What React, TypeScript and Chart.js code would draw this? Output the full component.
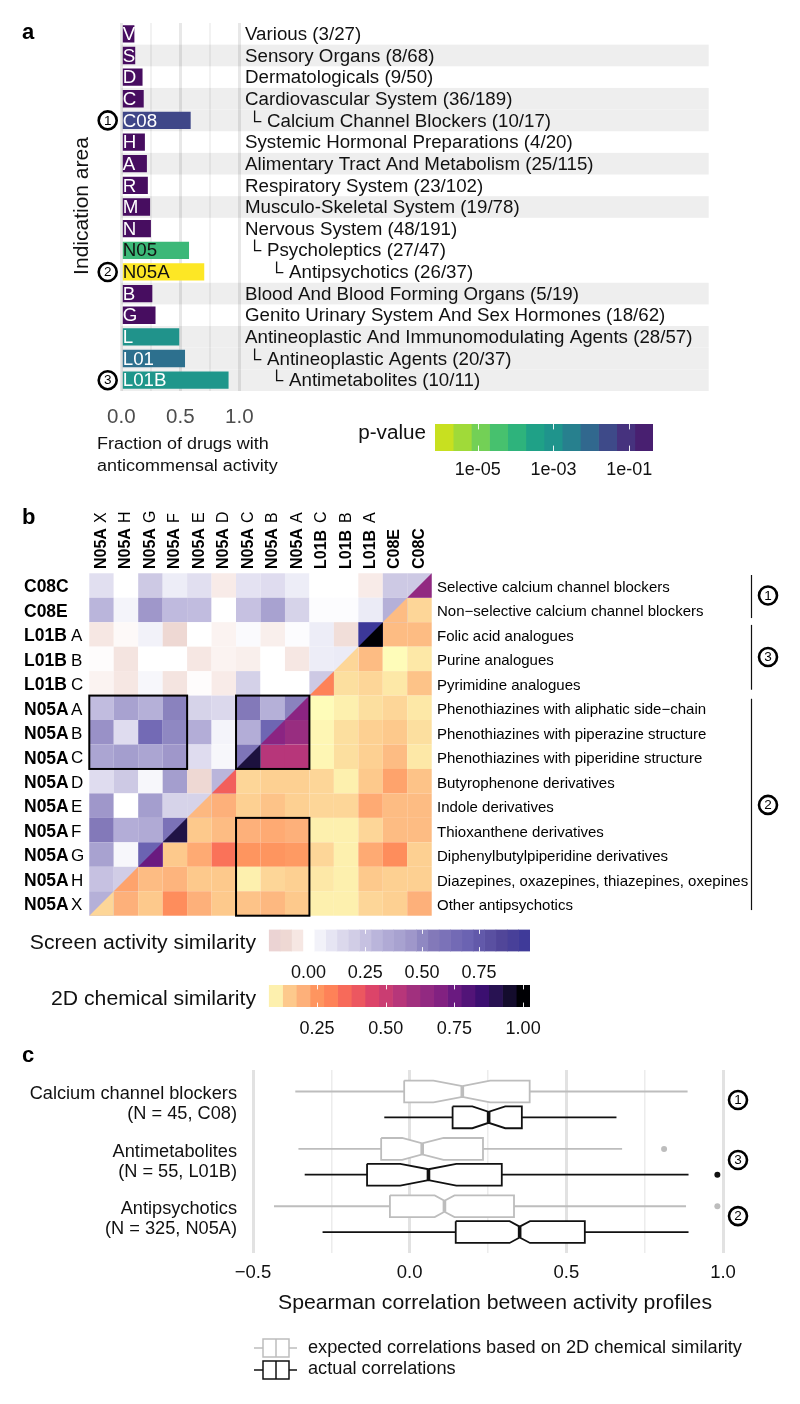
import React, { useEffect, useRef } from "react";
import { Chart, registerables } from "chart.js";
Chart.register(...registerables);

const PAGE_W = 800;
const PAGE_H = 1404;
const FONT = '"Liberation Sans", Arial, sans-serif';

// ---------- panel a ----------
const areaCodes = ["V", "S", "D", "C", "C08", "H", "A", "R", "M", "N", "N05", "N05A", "B", "G", "L", "L01", "L01B"];
const areaNames = ["Various (3/27)", "Sensory Organs (8/68)", "Dermatologicals (9/50)", "Cardiovascular System (36/189)", "Calcium Channel Blockers (10/17)", "Systemic Hormonal Preparations (4/20)", "Alimentary Tract And Metabolism (25/115)", "Respiratory System (23/102)", "Musculo-Skeletal System (19/78)", "Nervous System (48/191)", "Psycholeptics (27/47)", "Antipsychotics (26/37)", "Blood And Blood Forming Organs (5/19)", "Genito Urinary System And Sex Hormones (18/62)", "Antineoplastic And Immunomodulating Agents (28/57)", "Antineoplastic Agents (20/37)", "Antimetabolites (10/11)"];
const areaIndent = [0, 0, 0, 0, 1, 0, 0, 0, 0, 0, 1, 2, 0, 0, 0, 1, 2];
const areaFractions = [0.111, 0.118, 0.18, 0.19, 0.588, 0.2, 0.217, 0.225, 0.244, 0.251, 0.574, 0.703, 0.263, 0.29, 0.491, 0.54, 0.909];
const areaColors = ["#470d60", "#470d60", "#470d60", "#470d60", "#3f4788", "#470d60", "#470d60", "#470d60", "#470d60", "#470d60", "#3cb878", "#fde725", "#470d60", "#470d60", "#20938b", "#2d708e", "#1f968b"];
const areaLabelColors = ["#fff", "#fff", "#fff", "#fff", "#fff", "#fff", "#fff", "#fff", "#fff", "#fff", "#111", "#111", "#fff", "#fff", "#fff", "#fff", "#fff"];
const stripedAreas = ["S", "C", "C08", "A", "M", "B", "L", "L01", "L01B"];
const areaCircles = [["C08", "1"], ["N05A", "2"], ["L01B", "3"]];
const fractionTicks = [0, 0.25, 0.5, 0.75, 1];

const pValueEdges = [-6.13, -5.65, -5.17, -4.69, -4.21, -3.73, -3.25, -2.77, -2.29, -1.81, -1.33, -0.85, -0.37];
const pValueColors = ["#c8e020", "#a0da39", "#73d056", "#47c16e", "#2eb37c", "#1fa187", "#1f948c", "#27808e", "#31688e", "#3e4a89", "#46327e", "#481f70"];
const pValueTicks = [-5, -3, -1];
const pValueTickLabels = ["1e-05", "1e-03", "1e-01"];

// ---------- panel b ----------
const colCodes = [["N05A", "X"], ["N05A", "H"], ["N05A", "G"], ["N05A", "F"], ["N05A", "E"], ["N05A", "D"], ["N05A", "C"], ["N05A", "B"], ["N05A", "A"], ["L01B", "C"], ["L01B", "B"], ["L01B", "A"], ["C08E", ""], ["C08C", ""]];
const rowCodes = [["C08C", ""], ["C08E", ""], ["L01B", "A"], ["L01B", "B"], ["L01B", "C"], ["N05A", "A"], ["N05A", "B"], ["N05A", "C"], ["N05A", "D"], ["N05A", "E"], ["N05A", "F"], ["N05A", "G"], ["N05A", "H"], ["N05A", "X"]];
const rowNames = ["Selective calcium channel blockers", "Non\u2212selective calcium channel blockers", "Folic acid analogues", "Purine analogues", "Pyrimidine analogues", "Phenothiazines with aliphatic side\u2212chain", "Phenothiazines with piperazine structure", "Phenothiazines with piperidine structure", "Butyrophenone derivatives", "Indole derivatives", "Thioxanthene derivatives", "Diphenylbutylpiperidine derivatives", "Diazepines, oxazepines, thiazepines, oxepines", "Other antipsychotics"];
// upper-left triangle, column 0 up to the diagonal
const screenRows = [
  [0.12, 0, 0.22, 0.07, 0.12, -0.04, 0.11, 0.13, 0.07, 0, 0, -0.04, 0.22, 0.22],
  [0.3, 0.04, 0.45, 0.28, 0.27, 0, 0.25, 0.4, 0.17, 0.01, 0.01, 0.08, 0.32],
  [-0.05, -0.01, 0.05, -0.1, 0, -0.02, 0.02, -0.03, 0.01, 0.07, -0.08, 0.97],
  [-0.005, -0.06, 0, 0, -0.05, -0.02, -0.03, 0, -0.05, 0.07, 0.08],
  [-0.02, -0.05, 0.03, -0.06, -0.005, -0.04, 0.18, 0, 0, 0.22],
  [0.27, 0.4, 0.32, 0.52, 0.17, 0.15, 0.55, 0.32, 0.52],
  [0.47, 0.13, 0.65, 0.5, 0.33, 0.04, 0.33, 0.68],
  [0.38, 0.42, 0.38, 0.45, 0.13, 0.03, 0.58],
  [0.13, 0.22, 0.03, 0.42, -0.1, 0.3],
  [0.45, 0, 0.42, 0.17, 0.17],
  [0.55, 0.33, 0.35, 0.6],
  [0.4, 0.03, 0.7],
  [0.25, 0.2],
  [0.32],
];
// lower-right triangle, from the diagonal to the last column
const chemRows = [
  [0.65],
  [0.17, 0.13],
  [1.0, 0.17, 0.17],
  [0.13, 0.17, 0.08, 0.11],
  [0.3, 0.12, 0.13, 0.11, 0.16],
  [0.68, 0.08, 0.1, 0.12, 0.13, 0.11],
  [0.68, 0.62, 0.09, 0.12, 0.14, 0.15, 0.12],
  [0.93, 0.55, 0.55, 0.09, 0.12, 0.14, 0.17, 0.11],
  [0.38, 0.13, 0.14, 0.14, 0.13, 0.1, 0.15, 0.22, 0.16],
  [0.18, 0.2, 0.14, 0.16, 0.14, 0.13, 0.13, 0.21, 0.17, 0.17],
  [0.92, 0.15, 0.17, 0.2, 0.21, 0.2, 0.1, 0.1, 0.13, 0.17, 0.17],
  [0.75, 0.15, 0.21, 0.33, 0.25, 0.25, 0.24, 0.13, 0.1, 0.21, 0.27, 0.14],
  [0.22, 0.17, 0.19, 0.15, 0.15, 0.1, 0.13, 0.14, 0.11, 0.1, 0.15, 0.14, 0.14],
  [0.13, 0.2, 0.15, 0.27, 0.2, 0.15, 0.16, 0.18, 0.15, 0.1, 0.1, 0.13, 0.14, 0.2],
];
const outlinedBlocks = [
  [0, 3, 5, 7],
  [6, 8, 5, 7],
  [6, 8, 10, 13],
];
const brackets = [
  [-0.43, 1.33, 0.41, "1"],
  [1.61, 4.26, 2.92, "3"],
  [4.63, 13.27, 8.97, "2"],
];
const screenStopValues = [-0.175, -0.1, -0.05, -0.02, 0, 0.04, 0.08, 0.13, 0.17, 0.22, 0.27, 0.33, 0.4, 0.45, 0.5, 0.55, 0.6, 0.7, 0.85, 0.975];
const screenStopColors = ["#e9d0d3", "#eed8d3", "#f6e7e3", "#fbf3f1", "#ffffff", "#f4f4fa", "#ebebf6", "#dfdcef", "#d6d3e9", "#cdc9e4", "#c1bcdf", "#b3add7", "#a8a2d0", "#9f97ca", "#8f88c2", "#8379b9", "#7b72b8", "#6b63b2", "#514699", "#3b3799"];
const chemStopValues = [0.075, 0.08, 0.1, 0.12, 0.13, 0.15, 0.17, 0.2, 0.22, 0.25, 0.3, 0.33, 0.38, 0.45, 0.55, 0.62, 0.68, 0.75, 0.85, 0.92, 1.0];
const chemStopColors = ["#fefdbb", "#fefcb9", "#fdf0ae", "#fcdf9f", "#fdd698", "#fdc98c", "#fdbc83", "#fdb07a", "#fea36c", "#fe955f", "#fe8258", "#fa7259", "#f25f5c", "#dc4469", "#b7367a", "#982d80", "#8b2482", "#6a1a80", "#3b0f70", "#201346", "#000004"];
const screenEdges = [-0.175, -0.125, -0.075, -0.025, 0.025, 0.075, 0.125, 0.175, 0.225, 0.275, 0.325, 0.375, 0.425, 0.475, 0.525, 0.575, 0.625, 0.675, 0.725, 0.775, 0.825, 0.875, 0.925, 0.975];
const screenTicks = [0, 0.25, 0.5, 0.75];
const chemEdges = [0.075, 0.125, 0.175, 0.225, 0.275, 0.325, 0.375, 0.425, 0.475, 0.525, 0.575, 0.625, 0.675, 0.725, 0.775, 0.825, 0.875, 0.925, 0.975, 1.025];
const chemTicks = [0.25, 0.5, 0.75, 1];

// ---------- panel c ----------
const boxGroupLines = [
  ["Calcium channel blockers", "(N = 45, C08)"],
  ["Antimetabolites", "(N = 55, L01B)"],
  ["Antipsychotics", "(N = 325, N05A)"],
];
const boxGroupCircles = ["1", "3", "2"];
const boxGroupCircleRows = [-0.077, 0.97, 1.947];
const expLow = [-0.365, -0.355, -0.433];
const expQ1 = [-0.0175, -0.091, -0.063];
const expNotchLow = [0.076, -0.024, 0.08];
const expMedian = [0.168, 0.04, 0.111];
const expNotchHigh = [0.257, 0.108, 0.143];
const expQ3 = [0.383, 0.234, 0.333];
const expHigh = [0.887, 0.678, 0.882];
const expOutliers = [[], [0.812], [0.982]];
const actLow = [-0.081, -0.335, -0.278];
const actQ1 = [0.137, -0.136, 0.147];
const actNotchLow = [0.2, -0.03, 0.319];
const actMedian = [0.252, 0.06, 0.351];
const actNotchHigh = [0.305, 0.149, 0.384];
const actQ3 = [0.358, 0.294, 0.559];
const actHigh = [0.66, 0.89, 0.89];
const actOutliers = [[], [0.982], []];
const corrTicks = [-0.5, -0.25, 0, 0.25, 0.5, 0.75, 1];

// ---------- helpers ----------
function hex(c) {
  return [parseInt(c.slice(1, 3), 16), parseInt(c.slice(3, 5), 16), parseInt(c.slice(5, 7), 16)];
}
function ramp(v, values, colors) {
  if (v <= values[0]) return colors[0];
  for (let i = 1; i < values.length; i++) {
    if (v <= values[i]) {
      const t = (v - values[i - 1]) / (values[i] - values[i - 1]);
      const a = hex(colors[i - 1]);
      const b = hex(colors[i]);
      return `rgb(${a.map((p, k) => Math.round(p + (b[k] - p) * t)).join(",")})`;
    }
  }
  return colors[colors.length - 1];
}
const screenColor = (v) => ramp(v, screenStopValues, screenStopColors);
const chemColor = (v) => ramp(v, chemStopValues, chemStopColors);

function txt(ctx, s, x, y, o: any = {}) {
  ctx.save();
  ctx.translate(x, y);
  if (o.rot) ctx.rotate(o.rot);
  ctx.scale(o.sx || 1, 1);
  ctx.font = `${o.bold ? "bold " : ""}${o.size || 16}px ${FONT}`;
  ctx.fillStyle = o.color || "#111";
  ctx.textAlign = o.align || "left";
  ctx.textBaseline = "middle";
  ctx.fillText(s, 0, 0);
  ctx.restore();
}
function circled(ctx, n, x, y) {
  ctx.save();
  ctx.beginPath();
  ctx.arc(x, y, 9, 0, Math.PI * 2);
  ctx.lineWidth = 2.6;
  ctx.strokeStyle = "#000";
  ctx.stroke();
  ctx.restore();
  txt(ctx, n, x, y + 0.5, { size: 13.5, align: "center", color: "#000" });
}
function padding(l, t, r, b, axisH) {
  return { left: l, top: t, right: PAGE_W - r, bottom: PAGE_H - b - axisH };
}
const base = {
  responsive: false,
  animation: false,
  devicePixelRatio: 1,
  events: [],
};
const quiet = { legend: { display: false }, tooltip: { enabled: false } };

// ---------- chart configs ----------
function barsConfig() {
  return {
    type: "bar",
    data: {
      labels: areaCodes,
      datasets: [{
        data: areaFractions,
        backgroundColor: areaColors,
        borderWidth: 0,
        barPercentage: 0.8,
        categoryPercentage: 1,
      }],
    },
    options: {
      ...base,
      indexAxis: "y",
      layout: { padding: padding(121.3, 23, 708.7, 391, 40) },
      plugins: quiet,
      scales: {
        x: {
          type: "linear",
          min: 0,
          max: 4.978,
          afterBuildTicks: (s) => { s.ticks = fractionTicks.map((value) => ({ value })); },
          afterFit: (s) => { s.height = 40; },
          border: { display: false },
          grid: {
            drawTicks: false,
            color: (c) => (c.tick.value % 0.5 === 0 ? "rgba(0,0,0,0.09)" : "rgba(0,0,0,0.05)"),
            lineWidth: (c) => (c.tick.value % 0.5 === 0 ? 3 : 2),
          },
          ticks: {
            autoSkip: false,
            maxRotation: 0,
            padding: 14,
            color: "#4d4d4d",
            font: { family: FONT, size: 20.5 },
            callback: (v) => (v % 0.5 === 0 ? Number(v).toFixed(1) : ""),
          },
        },
        y: { type: "category", display: false, offset: true },
      },
    },
    plugins: [{
      id: "stripes",
      beforeDraw(chart) {
        const { ctx, chartArea, scales } = chart;
        ctx.save();
        ctx.fillStyle = "#eeeeee";
        const step = scales.y.getPixelForValue(1) - scales.y.getPixelForValue(0);
        stripedAreas.forEach((code) => {
          const yy = scales.y.getPixelForValue(areaCodes.indexOf(code));
          ctx.fillRect(chartArea.left, yy - step / 2, chartArea.right - chartArea.left, step);
        });
        ctx.restore();
      },
      afterDatasetsDraw(chart) {
        const { ctx, scales } = chart;
        const x0 = scales.x.getPixelForValue(0);
        areaCodes.forEach((code, i) => {
          const yy = scales.y.getPixelForValue(i) + 1.2;
          txt(ctx, code, x0 + 1.5, yy, { size: 18, sx: 1.04, color: areaLabelColors[i] });
          const left = 245 + areaIndent[i] * 22;
          if (areaIndent[i]) txt(ctx, "\u2514", left - 19, yy, { size: 18, sx: 1.04, color: "#111" });
          txt(ctx, areaNames[i], left, yy, { size: 18, sx: 1.04 });
        });
        areaCircles.forEach(([code, n]) => {
          circled(ctx, n, 107.7, scales.y.getPixelForValue(areaCodes.indexOf(code)));
        });
        txt(ctx, "a", 22, 33, { size: 22, bold: true, color: "#000" });
        txt(ctx, "Indication area", 82, 206, { size: 21, rot: -Math.PI / 2, align: "center" });
        txt(ctx, "Fraction of drugs with", 97, 444, { size: 17.3, sx: 1.04 });
        txt(ctx, "anticommensal activity", 97, 466, { size: 17.3, sx: 1.04 });
        txt(ctx, "p-value", 426, 434, { size: 19.5, sx: 1.06, align: "right" });
      },
    }],
  };
}

function colorBarConfig(edges, colorAt, ticks, labelFor, l, t, r, b, tickPad, title, titleX, titleY) {
  const datasets = edges.slice(0, -1).map((e, i) => ({
    data: [[e, edges[i + 1]]],
    backgroundColor: colorAt(i),
    borderWidth: 0,
    grouped: false,
    barPercentage: 1,
    categoryPercentage: 1,
  }));
  return {
    type: "bar",
    data: { labels: ["bin"], datasets },
    options: {
      ...base,
      indexAxis: "y",
      layout: { padding: padding(l, t, r, b, 34) },
      plugins: quiet,
      scales: {
        x: {
          type: "linear",
          min: edges[0],
          max: edges[edges.length - 1],
          afterBuildTicks: (s) => { s.ticks = ticks.map((value) => ({ value })); },
          afterFit: (s) => { s.height = 34; },
          border: { display: false },
          grid: { display: false, drawTicks: false },
          ticks: {
            autoSkip: false,
            maxRotation: 0,
            padding: tickPad,
            color: "#111",
            font: { family: FONT, size: 18 },
            callback: (v) => labelFor(v),
          },
        },
        y: { type: "category", display: false, offset: true },
      },
    },
    plugins: [{
      id: "barTicks",
      afterDatasetsDraw(chart) {
        const { ctx, chartArea, scales } = chart;
        const len = (chartArea.bottom - chartArea.top) / 5;
        ctx.save();
        ctx.strokeStyle = "rgba(255,255,255,0.9)";
        ctx.lineWidth = 1;
        ticks.forEach((v) => {
          const xx = Math.round(scales.x.getPixelForValue(v)) + 0.5;
          ctx.beginPath();
          ctx.moveTo(xx, chartArea.top);
          ctx.lineTo(xx, chartArea.top + len);
          ctx.moveTo(xx, chartArea.bottom - len);
          ctx.lineTo(xx, chartArea.bottom);
          ctx.stroke();
        });
        ctx.restore();
        if (title) txt(ctx, title, titleX, titleY, { size: 20, sx: 1.06, align: "right" });
      },
    }],
  };
}

function heatConfig() {
  const upper = [];
  const lower = [];
  const diag = [];
  screenRows.forEach((row, r) => {
    row.forEach((v, c) => {
      if (r + c === 13) diag.push({ x: c, y: r, v, w: chemRows[r][0] });
      else upper.push({ x: c, y: r, v });
    });
  });
  chemRows.forEach((row, r) => {
    row.forEach((v, k) => {
      if (k > 0) lower.push({ x: 13 - r + k, y: r, v });
    });
  });
  const cell = {
    showLine: false,
    pointStyle: "rect",
    pointRadius: 17.32,
    pointBorderWidth: 0,
    clip: false,
  };
  return {
    type: "scatter",
    data: {
      datasets: [
        { ...cell, label: "diagonal", data: diag, pointBackgroundColor: (c) => screenColor(c.raw ? c.raw.v : 0) },
        { ...cell, label: "chemical", data: lower, pointBackgroundColor: (c) => chemColor(c.raw ? c.raw.v : 0.1) },
        { ...cell, label: "screen", data: upper, pointBackgroundColor: (c) => screenColor(c.raw ? c.raw.v : 0) },
      ],
    },
    options: {
      ...base,
      layout: { padding: padding(89.3, 573.3, 431.7, 915.7, 0) },
      plugins: quiet,
      scales: {
        x: { type: "linear", min: -0.5, max: 13.5, display: false },
        y: { type: "linear", min: -0.5, max: 13.5, reverse: true, display: false },
      },
    },
    plugins: [{
      id: "heatExtras",
      afterDatasetsDraw(chart) {
        const { ctx, scales } = chart;
        const X = scales.x;
        const Y = scales.y;
        // lower-right half of the diagonal cells
        diag.forEach((d) => {
          ctx.beginPath();
          ctx.moveTo(X.getPixelForValue(d.x + 0.5), Y.getPixelForValue(d.y - 0.5));
          ctx.lineTo(X.getPixelForValue(d.x + 0.5), Y.getPixelForValue(d.y + 0.5));
          ctx.lineTo(X.getPixelForValue(d.x - 0.5), Y.getPixelForValue(d.y + 0.5));
          ctx.closePath();
          ctx.fillStyle = chemColor(d.w);
          ctx.fill();
        });
        ctx.save();
        ctx.strokeStyle = "#000";
        ctx.lineWidth = 2;
        outlinedBlocks.forEach(([c0, c1, r0, r1]) => {
          const xa = X.getPixelForValue(c0 - 0.5);
          const xb = X.getPixelForValue(c1 + 0.5);
          const ya = Y.getPixelForValue(r0 - 0.5);
          const yb = Y.getPixelForValue(r1 + 0.5);
          ctx.strokeRect(xa, ya, xb - xa, yb - ya);
        });
        ctx.restore();
        colCodes.forEach(([code, suffix], c) => {
          const xx = X.getPixelForValue(c);
          txt(ctx, code, xx, 569, { size: 16, bold: true, rot: -Math.PI / 2, color: "#000" });
          if (suffix) txt(ctx, suffix, xx, 523, { size: 16, rot: -Math.PI / 2, color: "#000" });
        });
        rowCodes.forEach(([code, suffix], r) => {
          const yy = Y.getPixelForValue(r);
          txt(ctx, code, 24, yy + 2, { size: 17.5, bold: true, color: "#000" });
          if (suffix) txt(ctx, suffix, 71, yy + 2, { size: 17, color: "#000" });
          txt(ctx, rowNames[r], 437, yy + 2.5, { size: 14.5, sx: 1.035, color: "#000" });
        });
        brackets.forEach(([a, b, mid, n]) => {
          ctx.save();
          ctx.strokeStyle = "#111";
          ctx.lineWidth = 1.2;
          ctx.beginPath();
          ctx.moveTo(751.5, Y.getPixelForValue(a));
          ctx.lineTo(751.5, Y.getPixelForValue(b));
          ctx.stroke();
          ctx.restore();
          circled(ctx, n, 768, Y.getPixelForValue(mid));
        });
        txt(ctx, "b", 22, 518, { size: 22, bold: true, color: "#000" });
      },
    }],
  };
}

function boxDatasets() {
  const h = 0.19;
  const out = [];
  const add = (i, dy, color, lw, low, q1, nl, med, nh, q3, high, outliers) => {
    const y = i + dy;
    const line = { showLine: true, pointRadius: 0, borderColor: color, tension: 0, borderJoinStyle: "miter", clip: false };
    out.push({
      ...line,
      isBox: true,
      borderWidth: lw,
      data: [
        { x: q1, y: y - h }, { x: nl, y: y - h }, { x: med, y: y - h / 2 }, { x: nh, y: y - h }, { x: q3, y: y - h },
        { x: q3, y: y + h }, { x: nh, y: y + h }, { x: med, y: y + h / 2 }, { x: nl, y: y + h }, { x: q1, y: y + h }, { x: q1, y: y - h },
      ],
    });
    out.push({ ...line, borderWidth: lw, data: [{ x: low, y }, { x: q1, y }] });
    out.push({ ...line, borderWidth: lw, data: [{ x: q3, y }, { x: high, y }] });
    out.push({ ...line, borderWidth: lw * 2, data: [{ x: med, y: y - h / 2 }, { x: med, y: y + h / 2 }] });
    if (outliers.length) {
      out.push({ showLine: false, pointRadius: 3, pointBackgroundColor: color, pointBorderWidth: 0, data: outliers.map((x) => ({ x, y })) });
    }
  };
  boxGroupLines.forEach((_, i) => {
    add(i, -0.225, "#bdbdbd", 1.8, expLow[i], expQ1[i], expNotchLow[i], expMedian[i], expNotchHigh[i], expQ3[i], expHigh[i], expOutliers[i]);
    add(i, 0.225, "#111111", 1.8, actLow[i], actQ1[i], actNotchLow[i], actMedian[i], actNotchHigh[i], actQ3[i], actHigh[i], actOutliers[i]);
  });
  return out;
}

function legendIcon(ctx, y, color) {
  ctx.save();
  ctx.strokeStyle = color;
  ctx.lineWidth = 1.5;
  ctx.beginPath();
  ctx.moveTo(254, y);
  ctx.lineTo(263, y);
  ctx.moveTo(289, y);
  ctx.lineTo(297, y);
  ctx.moveTo(276, y - 9);
  ctx.lineTo(276, y + 9);
  ctx.stroke();
  ctx.strokeRect(263, y - 9, 26, 18);
  ctx.restore();
}

function boxConfig() {
  return {
    type: "scatter",
    data: { datasets: boxDatasets() },
    options: {
      ...base,
      layout: { padding: padding(253, 1070, 723, 1253, 34) },
      plugins: quiet,
      scales: {
        x: {
          type: "linear",
          min: -0.5,
          max: 1,
          afterBuildTicks: (s) => { s.ticks = corrTicks.map((value) => ({ value })); },
          afterFit: (s) => { s.height = 34; },
          border: { display: false },
          grid: {
            drawTicks: false,
            color: (c) => (c.tick.value % 0.5 === 0 ? "#e2e2e2" : "#ececec"),
            lineWidth: (c) => (c.tick.value % 0.5 === 0 ? 3 : 1.5),
          },
          ticks: {
            autoSkip: false,
            maxRotation: 0,
            padding: 9,
            color: "#111",
            font: { family: FONT, size: 18.5 },
            callback: (v) => (v % 0.5 === 0 ? Number(v).toFixed(1).replace("-", "\u2212") : ""),
          },
        },
        y: { type: "linear", min: -0.6, max: 2.59, reverse: true, display: false },
      },
    },
    plugins: [{
      id: "boxExtras",
      beforeDatasetsDraw(chart) {
        const { ctx } = chart;
        ctx.save();
        ctx.fillStyle = "#fff";
        chart.data.datasets.forEach((d, i) => {
          if (!d.isBox) return;
          const pts = chart.getDatasetMeta(i).data;
          ctx.beginPath();
          pts.forEach((p, k) => (k ? ctx.lineTo(p.x, p.y) : ctx.moveTo(p.x, p.y)));
          ctx.closePath();
          ctx.fill();
        });
        ctx.restore();
      },
      afterDatasetsDraw(chart) {
        const { ctx, scales } = chart;
        boxGroupLines.forEach(([a, b], i) => {
          const yy = scales.y.getPixelForValue(i);
          txt(ctx, a, 237, yy - 10, { size: 17.5, sx: 1.04, align: "right" });
          txt(ctx, b, 237, yy + 10, { size: 17.5, sx: 1.04, align: "right" });
          circled(ctx, boxGroupCircles[i], 738, scales.y.getPixelForValue(boxGroupCircleRows[i]));
        });
        txt(ctx, "c", 22, 1056, { size: 22, bold: true, color: "#000" });
        txt(ctx, "Spearman correlation between activity profiles", 495, 1303, { size: 20.5, sx: 1.035, align: "center" });
        legendIcon(ctx, 1348, "#bdbdbd");
        legendIcon(ctx, 1370, "#111");
        txt(ctx, "expected correlations based on 2D chemical similarity", 308, 1348, { size: 17.5, sx: 1.04 });
        txt(ctx, "actual correlations", 308, 1369, { size: 17.5, sx: 1.04 });
      },
    }],
  };
}

function Panel({ make }) {
  const ref = useRef(null);
  useEffect(() => {
    const chart = new Chart(ref.current, make());
    return () => chart.destroy();
  }, [make]);
  return (
    <canvas
      ref={ref}
      width={PAGE_W}
      height={PAGE_H}
      style={{ position: "absolute", left: 0, top: 0, width: PAGE_W, height: PAGE_H, display: "block" }}
    />
  );
}

const makers = [
  barsConfig,
  () => colorBarConfig(pValueEdges, (i) => pValueColors[i], pValueTicks, (v) => pValueTickLabels[pValueTicks.indexOf(v)], 435, 424, 653, 451, 8, "", 0, 0),
  heatConfig,
  () => colorBarConfig(screenEdges, (i) => screenColor((screenEdges[i] + screenEdges[i + 1]) / 2), screenTicks, (v) => Number(v).toFixed(2), 268.8, 929.5, 530, 951.5, 11, "Screen activity similarity", 256, 943),
  () => colorBarConfig(chemEdges, (i) => chemColor((chemEdges[i] + chemEdges[i + 1]) / 2), chemTicks, (v) => Number(v).toFixed(2), 268.8, 985, 530, 1007, 11, "2D chemical similarity", 256, 999),
  boxConfig,
];

export default function App() {
  return (
    <div style={{ position: "absolute", left: 0, top: 0, width: PAGE_W, height: PAGE_H, background: "#fff", overflow: "hidden" }}>
      {makers.map((m, i) => <Panel key={i} make={m} />)}
    </div>
  );
}
